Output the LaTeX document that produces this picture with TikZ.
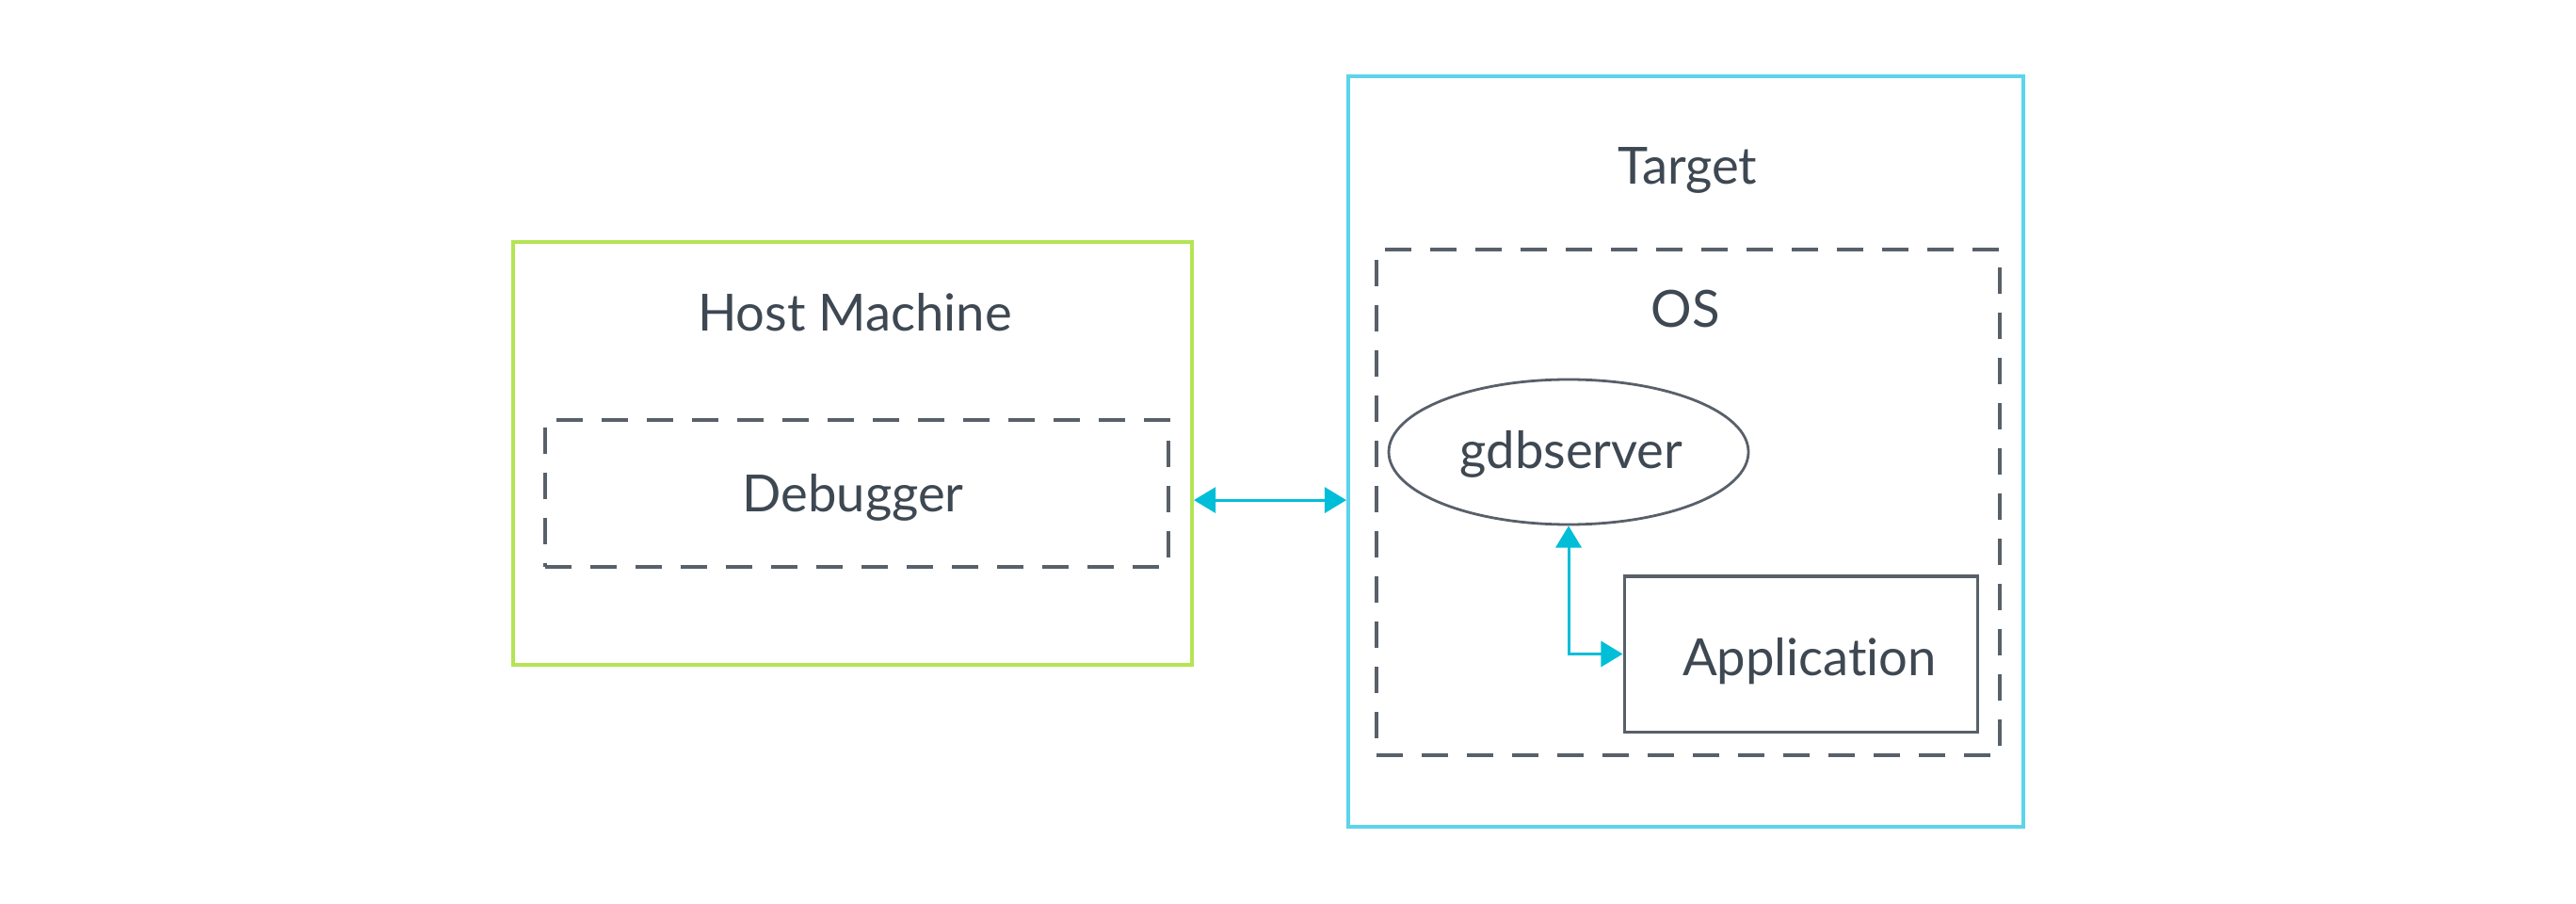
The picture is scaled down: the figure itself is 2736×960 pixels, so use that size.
\documentclass[tikz,border=0pt]{standalone}
\usepackage{fontspec}
\setmainfont{Lato}[Ligatures=NoCommon]
\usetikzlibrary{arrows.meta,shapes.geometric,calc}
\definecolor{hostgreen}{RGB}{180,228,84}
\definecolor{targetcyan}{RGB}{92,212,234}
\definecolor{linkcyan}{RGB}{0,190,216}
\definecolor{inkgray}{RGB}{62,72,82}
\definecolor{dashgray}{RGB}{88,96,106}
\tikzset{
  lbl/.style={font=\fontsize{13.6pt}{16pt}\selectfont, text=inkgray, inner sep=0pt},
  hostbox/.style={draw=hostgreen, line width=1pt, inner sep=0pt},
  targetbox/.style={draw=targetcyan, line width=1pt, inner sep=0pt},
  dashbox/.style={draw=dashgray, line width=0.9pt, dash pattern=on 7pt off 5pt, inner sep=0pt},
  appbox/.style={draw=dashgray, line width=0.75pt, inner sep=0pt},
  gdbell/.style={ellipse, draw=dashgray, line width=0.7pt, inner sep=0pt},
  link/.style={draw=linkcyan, line width=0.75pt, {Triangle[length=5.8pt,width=6.8pt]}-{Triangle[length=5.8pt,width=6.8pt]}}
}
\begin{document}
\begin{tikzpicture}[x=0.25pt,y=-0.25pt]
\useasboundingbox[fill=white] (0,0) rectangle (2736,960);
% host
\node[hostbox, minimum width=180.25pt, minimum height=112.25pt] (host) at (905.5,481.5) {};
\node[lbl, anchor=base] (hosttitle) at (908,352) {Host Machine};
\node[dashbox, minimum width=165.5pt, minimum height=39pt] (dbg) at (910,524) {};
\node[lbl, anchor=base] (dbgtext) at (906,543) {Debugger};
% target
\node[targetbox, minimum width=179.25pt, minimum height=199.25pt] (target) at (1790.5,479.5) {};
\node[lbl, anchor=base] (targettitle) at (1792,196) {Target};
\node[dashbox, minimum width=165.5pt, minimum height=134.25pt] (os) at (1793,533.5) {};
\node[lbl, anchor=base] (ostitle) at (1790,348) {OS};
\node[gdbell, minimum width=95.5pt, minimum height=38.5pt] (gdb) at (1666,480) {};
\node[lbl, anchor=base] (gdbtext) at (1669,498) {gdbserver};
\node[appbox, minimum width=93.75pt, minimum height=41.25pt] (app) at (1912.5,694.5) {};
\node[lbl, anchor=base] (apptext) at (1922,717) {Application};
% connectors
\draw[link] ([yshift=-12.4pt]host.east) -- ([yshift=-12.4pt]host.east -| target.west);
\draw[link] (gdb.south) |- (app.west);
\end{tikzpicture}
\end{document}
